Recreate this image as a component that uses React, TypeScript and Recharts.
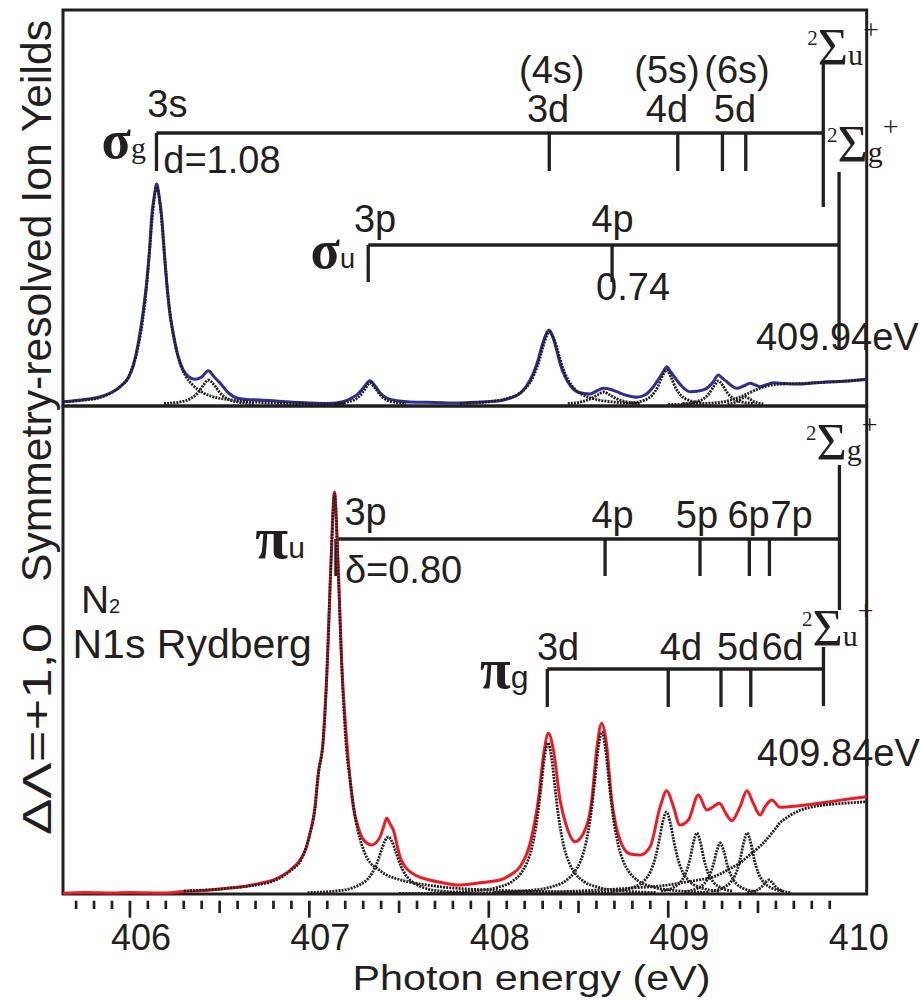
import React from 'react';
import { ComposedChart, Line, XAxis, YAxis, Scatter, ReferenceArea } from 'recharts';

const SANS = '"Liberation Sans", Arial, Helvetica, sans-serif';
const SERIF = '"Liberation Serif", "Times New Roman", serif';
const INK = '#231f20';
const BLUE = '#2e3192';
const RED = '#ed1c24';

const X_MIN = 405.627;
const X_MAX = 410.106;

const xTicks = [
  405.7, 405.8, 405.9, 406, 406.1, 406.2, 406.3, 406.4, 406.5, 406.6, 406.7, 406.8, 406.9,
  407, 407.1, 407.2, 407.3, 407.4, 407.5, 407.6, 407.7, 407.8, 407.9,
  408, 408.1, 408.2, 408.3, 408.4, 408.5, 408.6, 408.7, 408.8, 408.9,
  409, 409.1, 409.2, 409.3, 409.4, 409.5, 409.6, 409.7, 409.8, 409.9, 410,
];

// ---------- top panel (sigma symmetry) : [photon energy eV, yield] ----------
const topMeasured: [number, number][] = [
  [405.627, 3.3], [405.75, 5.5], [405.85, 9], [405.95, 19], [405.99, 27], [406.02, 40], [406.056, 72],
  [406.075, 95], [406.093, 122], [406.11, 157], [406.121, 188], [406.135, 208], [406.149, 221],
  [406.163, 208], [406.177, 188], [406.19, 157], [406.205, 122], [406.22, 95], [406.241, 72],
  [406.27, 48], [406.297, 35], [406.33, 28], [406.362, 25.7], [406.4, 28], [406.436, 34.3],
  [406.47, 28], [406.502, 22], [406.55, 12], [406.595, 7], [406.65, 5.5], [406.725, 5], [406.85, 3.5],
  [407.0, 2], [407.096, 1.5], [407.15, 2], [407.226, 6], [407.27, 11], [407.3, 17], [407.338, 24.3],
  [407.37, 18], [407.4, 11], [407.431, 7], [407.5, 4], [407.561, 3], [407.7, 2.5], [407.839, 2],
  [407.95, 3], [408.062, 4.3], [408.12, 7], [408.174, 11.7], [408.21, 19], [408.248, 31.7],
  [408.275, 45], [408.295, 58.3], [408.315, 69], [408.336, 75], [408.357, 68], [408.378, 55],
  [408.4, 40], [408.425, 28.3], [408.46, 18], [408.49, 13.3], [408.53, 11.5], [408.564, 11],
  [408.6, 14], [408.638, 16.7], [408.68, 15.5], [408.713, 13.3], [408.77, 9.5], [408.824, 7.7],
  [408.87, 10], [408.917, 18.3], [408.95, 27], [408.975, 34], [408.992, 38.3], [409.01, 34],
  [409.047, 25], [409.08, 18], [409.121, 13.3], [409.17, 14], [409.215, 16.7], [409.25, 23],
  [409.279, 30], [409.3, 27], [409.326, 23.3], [409.355, 19], [409.382, 16.7], [409.42, 19],
  [409.456, 21.7], [409.485, 20], [409.512, 18.3], [409.55, 20.5], [409.586, 22.3], [409.65, 21.5],
  [409.735, 21], [409.8, 22], [409.92, 23.3], [410.0, 24], [410.106, 25.7],
];

const topFit3s: [number, number][] = [
  [405.627, 3.2], [405.75, 5], [405.85, 8.5], [405.95, 19], [405.99, 27], [406.02, 41], [406.05, 62],
  [406.07, 83], [406.09, 114], [406.11, 155], [406.13, 198], [406.149, 218], [406.17, 198],
  [406.19, 155], [406.21, 114], [406.23, 83], [406.25, 62], [406.28, 41], [406.31, 29], [406.35, 20],
  [406.4, 13], [406.45, 9], [406.55, 5.3], [406.65, 3.4], [406.85, 1.8], [407.2, 0.8],
];
const topFitVib: [number, number][] = [
  [406.19, 1.4], [406.29, 3.4], [406.34, 6.6], [406.38, 12.5], [406.41, 20], [406.436, 25],
  [406.47, 20], [406.5, 12.5], [406.54, 6.6], [406.59, 3.4], [406.69, 1.4],
];
const topFit3p: [number, number][] = [
  [407.14, 1.3], [407.24, 4.4], [407.28, 9], [407.31, 16], [407.338, 22], [407.37, 16], [407.4, 9],
  [407.44, 4.4], [407.54, 1.3],
];
const topFit3d: [number, number][] = [
  [407.84, 1.5], [407.99, 3.1], [408.09, 5.9], [408.16, 10.5], [408.21, 17.8], [408.25, 29.4],
  [408.28, 44], [408.31, 62.7], [408.336, 73], [408.37, 62.7], [408.4, 44], [408.43, 29.4],
  [408.47, 17.8], [408.52, 10.5], [408.59, 5.9], [408.69, 3.1], [408.84, 1.5],
];
const topFit4p: [number, number][] = [
  [408.44, 1.4], [408.52, 3.4], [408.57, 6.5], [408.61, 10.5], [408.64, 13], [408.67, 10.5],
  [408.71, 6.5], [408.76, 3.4], [408.84, 1.4],
];
const topFit4d: [number, number][] = [
  [408.79, 2.1], [408.87, 5.1], [408.91, 9.8], [408.94, 17.5], [408.965, 28], [408.99, 35],
  [409.015, 28], [409.04, 17.5], [409.07, 9.8], [409.11, 5.1], [409.19, 2.1],
];
const topFit5d: [number, number][] = [
  [409.08, 1.4], [409.16, 3.5], [409.2, 6.7], [409.23, 12], [409.255, 19.2], [409.28, 24],
  [409.305, 19.2], [409.33, 12], [409.36, 6.7], [409.4, 3.5], [409.48, 1.4],
];
const topFit6d: [number, number][] = [
  [409.33, 1.1], [409.38, 3.1], [409.41, 6.4], [409.43, 8], [409.45, 6.4], [409.48, 3.1], [409.53, 1.1],
];
const topFitEdge: [number, number][] = [
  [409.0, 0.5], [409.2, 1.5], [409.3, 3], [409.35, 5], [409.4, 8], [409.45, 12], [409.5, 16],
  [409.55, 19], [409.6, 20.5], [409.7, 21.3], [409.8, 22], [409.9, 23], [410.0, 24], [410.106, 25.5],
];

// ---------- bottom panel (pi symmetry) ----------
const bottomMeasured: [number, number][] = [
  [405.628, 0.7], [405.75, 1.5], [405.9, 1], [406.0, 1.5], [406.167, 1], [406.3, 2.5], [406.45, 4],
  [406.539, 5.7], [406.65, 8], [406.725, 10.7], [406.8, 14], [406.855, 19], [406.9, 25],
  [406.948, 34], [406.98, 45], [407.003, 60.7], [407.03, 85], [407.05, 121], [407.077, 154],
  [407.1, 232], [407.12, 330], [407.14, 402], [407.16, 330], [407.18, 232], [407.208, 154],
  [407.225, 118], [407.245, 87], [407.27, 68], [407.292, 57], [407.32, 51], [407.347, 49],
  [407.37, 51], [407.394, 57], [407.415, 68], [407.431, 75.7], [407.45, 70], [407.468, 64],
  [407.49, 48], [407.505, 37.3], [407.53, 28], [407.561, 22.3], [407.6, 18], [407.654, 14.7],
  [407.75, 11], [407.839, 9], [407.9, 10], [407.951, 11.3], [408.062, 14], [408.12, 19],
  [408.174, 27.3], [408.23, 50.7], [408.276, 94], [408.309, 144], [408.332, 160.7], [408.36, 144],
  [408.397, 94], [408.434, 67.3], [408.48, 52.3], [408.527, 60.7], [408.574, 94], [408.601, 144],
  [408.629, 170.7], [408.653, 154], [408.685, 94], [408.731, 54], [408.787, 40], [408.843, 39],
  [408.899, 47.3], [408.955, 87.3], [408.992, 103.3], [409.029, 87.3], [409.065, 69], [409.112, 74],
  [409.168, 99], [409.215, 84], [409.251, 87.3], [409.285, 90.7], [409.326, 79], [409.354, 73.3],
  [409.4, 87.3], [409.438, 103.3], [409.474, 90.7], [409.512, 79], [409.54, 87.3], [409.577, 94],
  [409.623, 86.7], [409.716, 88], [409.809, 90], [409.902, 92.3], [409.995, 94.7], [410.106, 97.3],
];

const bottomFit3p: [number, number][] = [
  [406.3, 3], [406.5, 5], [406.7, 9], [406.8, 13], [406.9, 24], [406.95, 33], [407.0, 58], [407.03, 84],
  [407.05, 120], [407.077, 153], [407.1, 230], [407.12, 328], [407.14, 400], [407.16, 328],
  [407.18, 230], [407.203, 153], [407.23, 110], [407.26, 72], [407.3, 45], [407.34, 31],
  [407.375, 26], [407.42, 20], [407.5, 14.5], [407.6, 10.5], [407.654, 9], [407.8, 6], [408.0, 4],
  [408.3, 2.5], [408.7, 1.5],
];
const bottomFitVib: [number, number][] = [
  [406.99, 1.4], [407.14, 2.9], [407.22, 5], [407.28, 9.2], [407.32, 14], [407.35, 21], [407.375, 30],
  [407.4, 43], [407.42, 52.7], [407.44, 57], [407.46, 52.7], [407.48, 43], [407.505, 30],
  [407.53, 21], [407.56, 14], [407.6, 9.2], [407.66, 5], [407.74, 2.9], [407.89, 1.4],
];
const bottomFit3d: [number, number][] = [
  [407.73, 1.5], [407.93, 3.3], [408.05, 6.7], [408.13, 12.5], [408.18, 21], [408.21, 30.2],
  [408.24, 46.5], [408.27, 75.5], [408.29, 104.5], [408.31, 136], [408.33, 151], [408.35, 136],
  [408.37, 104.5], [408.39, 75.5], [408.42, 46.5], [408.45, 30.2], [408.48, 21], [408.53, 12.5],
  [408.61, 6.7], [408.73, 3.3], [408.93, 1.5],
];
const bottomFit4p: [number, number][] = [
  [408.03, 1.6], [408.23, 3.6], [408.35, 7.2], [408.43, 13.4], [408.48, 22.5], [408.51, 32.4],
  [408.54, 50], [408.57, 81], [408.59, 112], [408.61, 146], [408.63, 162], [408.65, 146],
  [408.67, 112], [408.69, 81], [408.72, 50], [408.75, 32.4], [408.78, 22.5], [408.83, 13.4],
  [408.91, 7.2], [409.03, 3.6], [409.23, 1.6],
];
const bottomFit4d: [number, number][] = [
  [408.69, 2.6], [408.81, 7], [408.87, 14.2], [408.9, 22], [408.93, 37.6], [408.95, 54],
  [408.97, 72.5], [408.99, 82], [409.01, 72.5], [409.03, 54], [409.05, 37.6], [409.08, 22],
  [409.11, 14.2], [409.17, 7], [409.29, 2.6],
];
const bottomFit5p: [number, number][] = [
  [408.96, 2.9], [409.03, 6.6], [409.07, 12.2], [409.1, 22], [409.12, 34], [409.14, 51], [409.16, 61],
  [409.18, 51], [409.2, 34], [409.22, 22], [409.25, 12.2], [409.29, 6.6], [409.36, 2.9],
];
const bottomFit5d: [number, number][] = [
  [409.09, 2.4], [409.16, 5.5], [409.2, 10.2], [409.23, 18.4], [409.25, 28.4], [409.27, 42.6],
  [409.29, 51], [409.31, 42.6], [409.33, 28.4], [409.35, 18.4], [409.38, 10.2], [409.42, 5.5],
  [409.49, 2.4],
];
const bottomFit6p: [number, number][] = [
  [409.24, 2.9], [409.31, 6.6], [409.35, 12.2], [409.38, 22], [409.4, 34], [409.42, 51], [409.44, 61],
  [409.46, 51], [409.48, 34], [409.5, 22], [409.53, 12.2], [409.57, 6.6], [409.64, 2.9],
];
const bottomFit7p: [number, number][] = [
  [409.44, 1.4], [409.49, 3.5], [409.52, 7], [409.54, 11.2], [409.56, 14], [409.58, 11.2],
  [409.6, 7], [409.63, 3.5], [409.68, 1.4],
];
const bottomFitEdge: [number, number][] = [
  [407.5, 0.5], [408.0, 1], [408.5, 3], [408.8, 6], [409.0, 9], [409.1, 12], [409.2, 15], [409.25, 17],
  [409.3, 21], [409.35, 26], [409.4, 31], [409.44, 37], [409.5, 46], [409.53, 51], [409.56, 57],
  [409.6, 66], [409.62, 70.7], [409.65, 75], [409.716, 82.3], [409.8, 87], [409.9, 89.5],
  [410.0, 91], [410.106, 92.3],
];

// ---------- Rydberg ladders (energy positions, level heights in panel units) ----------
type Ladder = { level: number; from: number; to: number; tickEnd: number; ticks: number[]; cap: [number, number] };
const topLadders: Ladder[] = [
  { level: 272, from: 406.148, to: 409.864, tickEnd: 234, ticks: [408.337, 409.053, 409.302, 409.432], cap: [345, 198] },
  { level: 160, from: 407.328, to: 409.952, tickEnd: 123, ticks: [408.687], cap: [233, 55] },
];
const bottomLadders: Ladder[] = [
  { level: 355, from: 407.148, to: 409.954, tickEnd: 318, ticks: [408.648, 409.177, 409.452, 409.564], cap: [429, 284] },
  { level: 225, from: 408.326, to: 409.865, tickEnd: 187, ticks: [409.0, 409.294, 409.46], cap: [247, 188] },
];

type Lab = { x: number; y: number; text?: string; kind?: string; anchor?: string; sub?: string; size?: number; subSize?: number; subSerif?: boolean };
const topLabels: Lab[] = [
  { x: 406.209, y: 288, text: '3s' },
  { x: 406.089, y: 247, text: 'σ', sub: 'g', kind: 'sym', anchor: 'end', size: 54, subSize: 30, subSerif: true },
  { x: 406.186, y: 232, text: 'd=1.08', anchor: 'start' },
  { x: 408.351, y: 322, text: '(4s)' },
  { x: 408.33, y: 283, text: '3d' },
  { x: 408.993, y: 322, text: '(5s)' },
  { x: 409.383, y: 322, text: '(6s)' },
  { x: 408.993, y: 283, text: '4d' },
  { x: 409.372, y: 283, text: '5d' },
  { x: 409.774, y: 340, kind: 'term', sub: 'u' },
  { x: 409.885, y: 243, kind: 'term', sub: 'g' },
  { x: 407.254, y: 137, text: 'σ', sub: 'u', kind: 'sym', anchor: 'end', size: 54, subSize: 27 },
  { x: 407.366, y: 173, text: '3p' },
  { x: 408.69, y: 173, text: '4p' },
  { x: 408.804, y: 105, text: '0.74' },
  { x: 409.489, y: 55, text: '409.94eV', anchor: 'start' },
];
const bottomLabels: Lab[] = [
  { x: 406.975, y: 336, text: 'π', sub: 'u', kind: 'sym', anchor: 'end', size: 60, subSize: 30 },
  { x: 407.313, y: 369, text: '3p' },
  { x: 407.198, y: 311, text: 'δ=0.80', anchor: 'start' },
  { x: 405.727, y: 281, kind: 'n2' },
  { x: 405.68, y: 236, text: 'N1s Rydberg', anchor: 'start', size: 41 },
  { x: 408.69, y: 366, text: '4p' },
  { x: 409.16, y: 366, text: '5p' },
  { x: 409.448, y: 366, text: '6p' },
  { x: 409.687, y: 366, text: '7p' },
  { x: 409.768, y: 434, kind: 'term', sub: 'g' },
  { x: 409.746, y: 248, kind: 'term', sub: 'u' },
  { x: 407.951, y: 206, text: 'π', sub: 'g', kind: 'sym', anchor: 'start', size: 56, subSize: 32 },
  { x: 408.386, y: 234, text: '3d' },
  { x: 409.071, y: 234, text: '4d' },
  { x: 409.389, y: 234, text: '5d' },
  { x: 409.637, y: 234, text: '6d' },
  { x: 409.495, y: 128, text: '409.84eV', anchor: 'start' },
];

const toPts = (arr: [number, number][]) => arr.map(([x, y]) => ({ x, y }));

const ladderSegments = (ls: Ladder[]) => {
  const segs: { x: number; y: number }[][] = [];
  ls.forEach((l) => {
    segs.push([{ x: l.from, y: l.level }, { x: l.to, y: l.level }]);
    segs.push([{ x: l.from, y: l.level }, { x: l.from, y: l.tickEnd }]);
    l.ticks.forEach((t) => segs.push([{ x: t, y: l.level }, { x: t, y: l.tickEnd }]));
    segs.push([{ x: l.to, y: l.cap[0] }, { x: l.to, y: l.cap[1] }]);
  });
  return segs;
};

const renderLabel = (p: any) => {
  const { cx, cy, payload } = p;
  const d: Lab = payload;
  if (cx == null || cy == null) return <g />;
  const kind = d.kind || 'txt';
  if (kind === 'sym') {
    return (
      <text x={cx} y={cy} textAnchor={(d.anchor || 'end') as any} fill={INK}>
        <tspan fontFamily={SERIF} fontWeight="bold" fontSize={d.size || 50}>{d.text}</tspan>
        <tspan fontFamily={d.subSerif ? SERIF : SANS} fontSize={d.subSize || 28}>{d.sub}</tspan>
      </text>
    );
  }
  if (kind === 'term') {
    return (
      <text x={cx} y={cy} fill={INK} fontFamily={SERIF}>
        <tspan fontSize={21} dy={-20}>2</tspan>
        <tspan fontSize={52} dy={20}>Σ</tspan>
        <tspan fontSize={30}>{d.sub}</tspan>
        <tspan fontSize={28} dy={-26}>+</tspan>
      </text>
    );
  }
  if (kind === 'n2') {
    return (
      <text x={cx} y={cy} fill={INK} fontFamily={SANS}>
        <tspan fontSize={39}>N</tspan>
        <tspan fontSize={20}>2</tspan>
      </text>
    );
  }
  return (
    <text x={cx} y={cy} textAnchor={(d.anchor || 'middle') as any} fontFamily={SANS} fontSize={d.size || 38} fill={INK}>
      {d.text}
    </text>
  );
};

const XTick = (props: any) => {
  const { x, y, payload } = props;
  const v = payload.value as number;
  const major = Math.abs(v - Math.round(v)) < 1e-6;
  const mid = !major && Math.abs(v * 2 - Math.round(v * 2)) < 1e-6;
  const len = major ? 17 : mid ? 12.3 : 8.3;
  return (
    <g>
      {v < 409.95 && (
        <line x1={x} x2={x} y1={y + 6.7} y2={y + 6.7 + len} stroke={INK} strokeWidth={2.7} />
      )}
      {major && (
        <text x={x + 11} y={y + 56} textAnchor="middle" fontFamily={SANS} fontSize={36} fill={INK}>
          {Math.round(v)}
        </text>
      )}
    </g>
  );
};

const XTitle = (props: any) => {
  const vb = props.viewBox || { x: 63, y: 498, width: 804, height: 106 };
  return (
    <text x={vb.x + vb.width * 0.583} y={vb.y + 96} textAnchor="middle" fontFamily={SANS} fontSize={35} fill={INK} textLength={358} lengthAdjust="spacingAndGlyphs">
      Photon energy (eV)
    </text>
  );
};

const DOT = { stroke: INK, strokeWidth: 2.8, strokeDasharray: '2 1.1' };

const Panel = ({
  height, margin, yDomain, measured, color, fits, ladders, labels, showAxis,
}: any) => (
  <ComposedChart width={920} height={height} margin={margin}>
    <XAxis
      dataKey="x"
      type="number"
      domain={[X_MIN, X_MAX]}
      hide={!showAxis}
      ticks={xTicks}
      interval={0}
      tick={<XTick />}
      tickLine={false}
      axisLine={false}
      tickSize={0}
      tickMargin={0}
      height={showAxis ? 106 : 0}
      label={showAxis ? XTitle : undefined}
    />
    <YAxis dataKey="y" type="number" domain={yDomain} hide />
    <ReferenceArea
      x1={X_MIN}
      x2={X_MAX}
      y1={yDomain[0]}
      y2={yDomain[1]}
      fill="none"
      fillOpacity={0}
      stroke={INK}
      strokeWidth={3}
      ifOverflow="visible"
    />
    {ladderSegments(ladders).map((s: any, i: number) => (
      <Line
        key={'lad' + i}
        data={s}
        dataKey="y"
        type="linear"
        stroke={INK}
        strokeWidth={3.3}
        dot={false}
        activeDot={false}
        isAnimationActive={false}
      />
    ))}
    <Line
      data={toPts(measured)}
      dataKey="y"
      type="monotone"
      stroke={color}
      strokeWidth={3}
      dot={false}
      activeDot={false}
      isAnimationActive={false}
    />
    {fits.map((f: [number, number][], i: number) => (
      <Line
        key={'fit' + i}
        data={toPts(f)}
        dataKey="y"
        type="monotone"
        {...DOT}
        dot={false}
        activeDot={false}
        isAnimationActive={false}
      />
    ))}
    <Scatter data={labels} dataKey="y" shape={renderLabel} isAnimationActive={false} />
  </ComposedChart>
);

export default function App() {
  return (
    <div style={{ position: 'absolute', left: 0, top: 0, width: 920, height: 1000, background: '#fff' }}>
      <div style={{ position: 'absolute', left: 0, top: 396 }}>
        <Panel
          height={604}
          margin={{ top: 10, right: 53.3, bottom: 0, left: 63 }}
          yDomain={[0, 488]}
          measured={bottomMeasured}
          color={RED}
          fits={[bottomFit3p, bottomFitVib, bottomFit3d, bottomFit4p, bottomFit4d, bottomFit5p, bottomFit5d, bottomFit6p, bottomFit7p, bottomFitEdge]}
          ladders={bottomLadders}
          labels={bottomLabels}
          showAxis
        />
      </div>
      <div style={{ position: 'absolute', left: 0, top: 0 }}>
        <Panel
          height={420}
          margin={{ top: 10, right: 53.3, bottom: 14, left: 63 }}
          yDomain={[-1, 395]}
          measured={topMeasured}
          color={BLUE}
          fits={[topFit3s, topFitVib, topFit3p, topFit3d, topFit4p, topFit4d, topFit5d, topFit6d, topFitEdge]}
          ladders={topLadders}
          labels={topLabels}
          showAxis={false}
        />
      </div>
      <svg width={70} height={1000} style={{ position: 'absolute', left: 0, top: 0 }}>
        <g transform="translate(51, 0) rotate(-90)">
          <text x={-835} y={0} fontFamily={SANS} fontSize={40} fill={INK} textLength={212} lengthAdjust="spacingAndGlyphs">
            ΔΛ=+1,0
          </text>
          <text x={-582} y={0} fontFamily={SANS} fontSize={42} fill={INK} textLength={562} lengthAdjust="spacingAndGlyphs">
            Symmetry-resolved Ion Yeilds
          </text>
        </g>
      </svg>
    </div>
  );
}
